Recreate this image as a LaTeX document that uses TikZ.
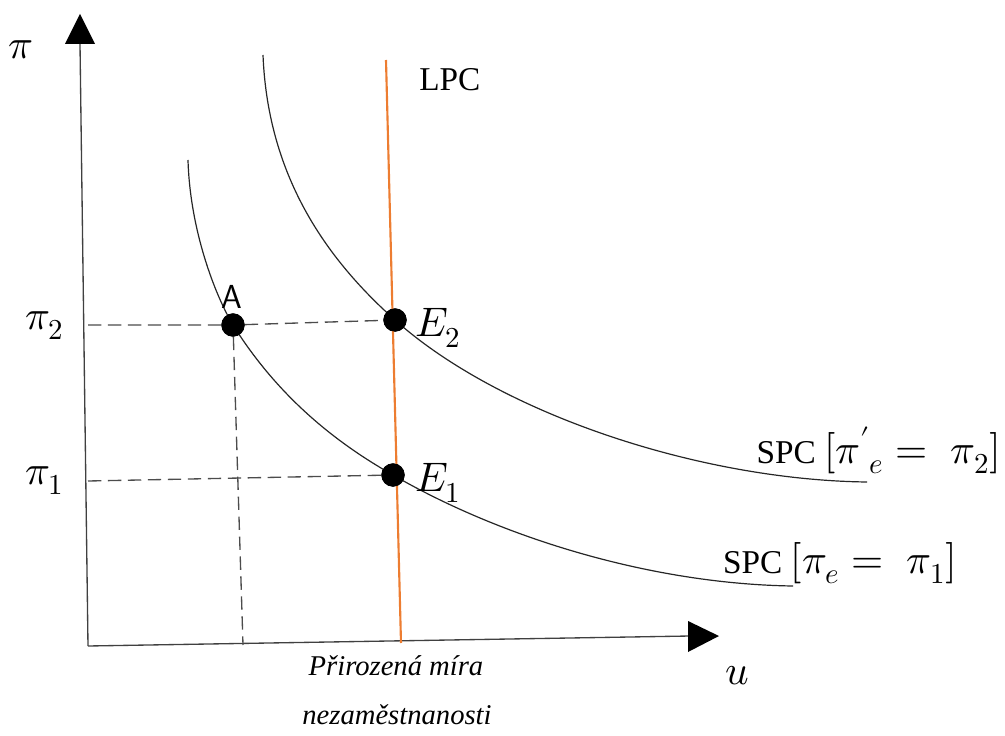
\documentclass[tikz,border=0pt]{standalone}
\usepackage{fontspec}
\setmainfont{Liberation Serif}
\usepackage{unicode-math}
\setmathfont{Latin Modern Math}
\definecolor{lpcorange}{RGB}{237,125,49}
\newcommand{\spcmath}[1]{{\fontsize{31}{36}\selectfont$#1$}}
\begin{document}
\begin{tikzpicture}[x=0.0264cm,y=-0.0264cm,
  axis/.style={draw=black!75, line width=1pt},
  curve/.style={draw=black!85, line width=0.9pt},
  guide/.style={draw=black!70, line width=1pt, dash pattern=on 10pt off 5pt},
  lpc/.style={draw=lpcorange, line width=1.6pt},
  dot/.style={circle, fill=black, inner sep=0pt, minimum size=17.5pt},
  lab/.style={inner sep=0pt, font=\fontsize{25}{30}\selectfont},
  mlab/.style={inner sep=0pt, font=\fontsize{31}{36}\selectfont},
  small/.style={inner sep=0pt, font=\fontsize{21.5}{25}\selectfont\itshape}]
\useasboundingbox (0,0) rectangle (1005,736);
% axes
\coordinate (O) at (88,646);
\coordinate (ytop) at (80,44);
\coordinate (xend) at (690,636);
\draw[axis] (O) -- (ytop);
\draw[axis] (O) -- (xend);
\fill (65,44) -- (95,44) -- (80,14) -- cycle;
\fill (688,621) -- (688,652) -- (719,636) -- cycle;
\node[mlab] (pi) at (21,50) {$\pi$};
\node[mlab] (u) at (737,676) {$u$};
% points
\node[dot] (A) at (233,325) {};
\node[dot] (E2) at (395,320) {};
\node[dot] (E1) at (393,475) {};
\coordinate (p2) at (88,325);
\coordinate (p1) at (88,481);
\coordinate (Ab) at (243,645);
\coordinate (s1a) at (188,160);
\coordinate (s1b) at (793,586);
\coordinate (s2a) at (263,55);
\coordinate (s2b) at (867,482);
% guides
\draw[guide] (p2) -- (A) -- (E2);
\draw[guide] (p1) -- (E1);
\draw[guide] (A) -- (Ab);
% LPC
\coordinate (lpctop) at (386,60);
\coordinate (lpcbot) at (401,643);
\draw[lpc] (lpctop) -- (lpcbot);
% SPC curves
\draw[curve] (s1a) .. controls (190,230) and (215,295) .. (A.center)
  .. controls (280,400) and (340,445) .. (E1.center)
  .. controls (500,537) and (650,584) .. (s1b);
\draw[curve] (s2a) .. controls (268,180) and (330,262) .. (E2.center)
  .. controls (500,414) and (700,480) .. (s2b);
\node[dot] at (A) {};
\node[dot] at (E2) {};
\node[dot] at (E1) {};
% labels
\node[lab] (Alab) at (232,297) {\fontfamily{lmss}\selectfont A};
\node[mlab, anchor=west] (E2lab) at (415,328) {$E_2$};
\node[mlab, anchor=west] (E1lab) at (415,483) {$E_1$};
\node[mlab, anchor=east] (p2lab) at (64,326) {$\pi_2$};
\node[mlab, anchor=east] (p1lab) at (64,481) {$\pi_1$};
\node[lab, anchor=west] (LPC) at (419,80) {LPC};
\node[lab, anchor=base east] (spc2) at (1001,463) {SPC \spcmath{[{\pi'}_e =\; \pi_2]}};
\node[lab, anchor=base east] (spc1) at (957,573) {SPC \spcmath{[\pi_e =\; \pi_1]}};
\node[small, anchor=base] (nat1) at (396,675) {Přirozená míra};
\node[small, anchor=base] (nat2) at (397,724) {nezaměstnanosti};
\end{tikzpicture}
\end{document}
